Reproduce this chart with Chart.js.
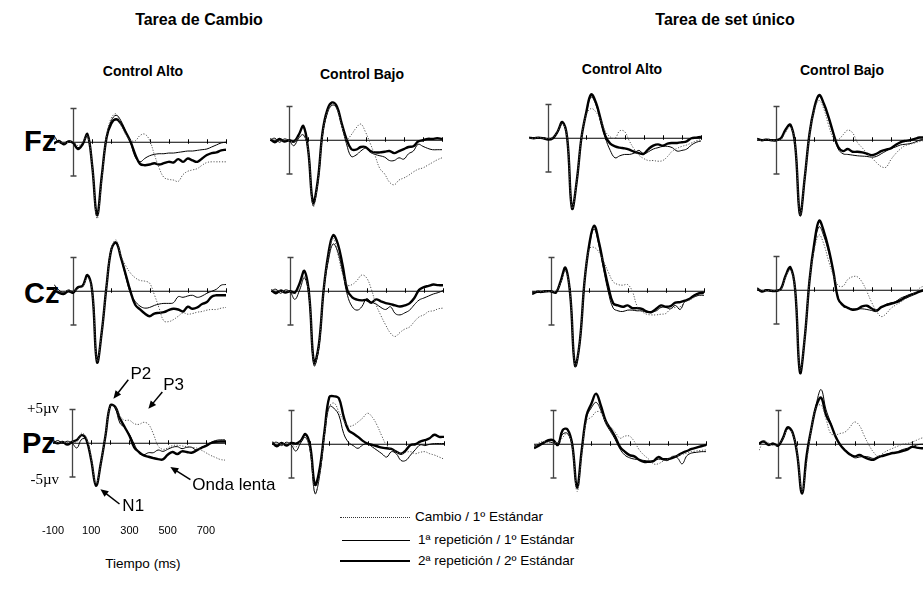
<!DOCTYPE html>
<html>
<head>
<meta charset="utf-8">
<script src="https://cdn.jsdelivr.net/npm/chart.js@4.4.1/dist/chart.umd.min.js"></script>
<style>
  body { margin: 0; width: 923px; height: 591px; overflow: hidden; background: #fff; position: relative;
         font-family: Arial, "Liberation Sans", Helvetica, sans-serif; color: #000; }
  canvas.erp { position: absolute; }
  .txt { position: absolute; white-space: nowrap; line-height: 1; transform: translate(-50%, -50%); }
  .left { transform: translate(0, -50%); }
  .title { font-weight: bold; font-size: 16px; }
  .col { font-weight: bold; font-size: 14px; }
  .row { font-weight: bold; font-size: 29px; }
  .leg { font-size: 13.5px; }
  .sample { position: absolute; width: 70px; height: 0; }
</style>
</head>
<body>

<div class="txt title" style="left:199px; top:20px">Tarea de Cambio</div>
<div class="txt title" style="left:725px; top:20px">Tarea de set único</div>
<div class="txt col" style="left:143px; top:71px">Control Alto</div>
<div class="txt col" style="left:362px; top:74px">Control Bajo</div>
<div class="txt col" style="left:622px; top:69px">Control Alto</div>
<div class="txt col" style="left:842px; top:70px">Control Bajo</div>
<div class="txt row left" style="left:24px; top:141px">Fz</div>
<div class="txt row left" style="left:24px; top:293px">Cz</div>
<div class="txt row left" style="left:22px; top:443px">Pz</div>
<div class="txt leg" style="left:143px; top:564px">Tiempo (ms)</div>

<div class="sample" style="left:340px; top:517px; border-top:1.2px dotted #333"></div>
<div class="sample" style="left:342px; top:540px; width:68px; border-top:1px solid #000"></div>
<div class="sample" style="left:340px; top:561px; border-top:2.4px solid #000; margin-top:-1px"></div>
<div class="txt leg left" style="left:415px; top:517px">Cambio / 1º Estándar</div>
<div class="txt leg left" style="left:418px; top:540px">1ª repetición / 1º Estándar</div>
<div class="txt leg left" style="left:418px; top:561px">2ª repetición / 2º Estándar</div>

<script>
// tiempos (ms) de cada muestra
const times = [-100, -75, -50, -25, 0, 25, 50, 75, 100, 125, 150, 175, 200, 225, 250, 275, 300,
  325, 350, 375, 400, 425, 450, 475, 500, 525, 550, 575, 600, 625, 650, 675, 700, 725, 750, 775, 800];
const calibTicks = [5, -5];
const xTickLabels = [-100, 100, 300, 500, 700];
const seriesNames = ["Cambio / 1º Estándar", "1ª repetición / 1º Estándar", "2ª repetición / 2º Estándar"];

// Tarea de Cambio - Control Alto
const tcAltoFz_cambio = [0.5, 0.1, -0.1, 0.0, 0.1, -0.5, 0.0, 1.0, -3.5, -11.3, -5.5, 1.0, 3.6, 4.2, 2.5, 1.2, 0.3, 0.2, 1.0, 1.2, 0.3, -1.8, -3.8, -5.2, -5.5, -5.6, -5.8, -4.8, -4.3, -4.1, -3.9, -3.4, -3.0, -2.9, -2.9, -2.9, -2.9];
const tcAltoFz_rep1   = [1.0, 0.0, -0.2, 0.2, 0.0, -0.8, -0.2, 1.2, -3.5, -10.9, -5.2, 0.8, 3.2, 4.0, 3.2, 1.6, 0.0, -2.2, -2.9, -2.4, -2.0, -1.8, -1.7, -1.7, -1.6, -1.6, -1.5, -1.4, -1.3, -1.3, -1.2, -1.1, -1.0, -0.7, -0.4, -0.1, 0.0];
const tcAltoFz_rep2   = [-0.2, 0.2, -0.3, 0.1, -0.1, -1.0, -0.3, 1.2, -3.5, -10.8, -5.0, 0.7, 2.8, 3.4, 2.8, 1.5, 0.1, -1.8, -3.2, -3.4, -3.3, -3.1, -3.3, -3.1, -2.9, -3.0, -2.5, -2.9, -2.4, -2.7, -2.9, -2.4, -1.9, -1.6, -1.5, -1.2, -1.1];
const tcAltoCz_cambio = [0.3, 0.0, -0.1, 0.1, 0.0, 0.4, 0.7, 2.0, 0.0, -10.3, -6.0, 0.8, 6.3, 7.6, 5.3, 3.8, 2.7, 2.0, 1.6, 1.5, 1.2, -0.5, -2.5, -4.4, -4.5, -4.2, -3.7, -3.2, -3.4, -3.3, -3.1, -3.0, -2.8, -2.7, -2.7, -2.5, -2.4];
const tcAltoCz_rep1   = [1.0, 0.2, -0.2, 0.2, 0.0, 0.5, 0.8, 2.2, 0.0, -10.3, -6.0, 0.8, 6.4, 7.3, 5.0, 2.2, -0.3, -1.5, -2.2, -2.5, -2.4, -2.1, -1.9, -1.8, -1.8, -1.7, -0.8, -0.9, -0.7, -0.6, -0.9, -0.7, -0.3, 0.0, 0.3, 0.9, 1.0];
const tcAltoCz_rep2   = [0.2, -0.2, -0.4, 0.0, -0.2, 0.6, 0.8, 2.4, 0.0, -10.5, -6.0, 0.8, 6.2, 7.2, 5.0, 2.5, 0.0, -2.0, -2.7, -3.3, -3.7, -3.3, -3.2, -3.1, -2.8, -2.6, -2.7, -3.0, -2.3, -2.6, -2.4, -1.9, -1.6, -0.8, -0.6, -0.6, -0.6];
const tcAltoPz_cambio = [0.3, 0.1, 0.2, 0.1, 0.3, 0.2, 1.5, 0.8, -2.2, -6.0, -3.0, 1.3, 5.5, 5.3, 4.0, 3.4, 3.4, 2.9, 2.8, 3.1, 2.8, 1.4, -0.4, -0.9, -0.7, -0.35, -0.3, -0.4, -0.5, -0.6, -0.7, -1.0, -1.4, -1.8, -2.1, -2.4, -2.5];
const tcAltoPz_rep1   = [0.0, 0.4, 0.0, 0.3, 0.0, -0.7, 0.6, 0.5, -2.5, -6.2, -3.0, 1.2, 5.6, 5.2, 3.0, 2.3, 1.3, -0.1, -1.5, -1.7, -1.4, -1.4, -1.0, -1.2, -0.9, -0.6, -0.5, -0.8, -0.6, -0.6, -1.0, -0.7, -0.3, 0.1, 0.4, 0.5, 0.5];
const tcAltoPz_rep2   = [0.3, 0.0, 0.2, -0.2, 0.2, 0.5, 1.2, 0.5, -2.5, -6.3, -3.0, 1.2, 5.6, 5.4, 3.7, 2.4, 1.1, -0.6, -1.3, -1.8, -2.0, -2.2, -2.35, -2.4, -1.7, -1.3, -1.6, -1.2, -1.3, -1.4, -1.1, -0.7, -0.4, 0.0, 0.2, 0.25, 0.25];

// Tarea de Cambio - Control Bajo
const tcBajoFz_cambio = [0.1, 0.2, -0.2, 0.1, 0.0, -0.3, 0.5, 0.8, -1.5, -9.8, -6.3, 0.8, 4.2, 5.3, 4.6, 2.2, 0.1, 0.8, 1.8, 2.4, 1.2, -0.5, -2.3, -4.2, -5.0, -6.2, -6.6, -5.9, -5.6, -5.2, -4.7, -4.3, -4.1, -3.7, -3.3, -2.9, -2.6];
const tcBajoFz_rep1   = [0.0, 0.3, -0.3, 0.2, -0.1, -0.8, 0.3, 0.8, -1.5, -9.6, -6.3, 0.8, 4.0, 5.2, 4.8, 2.2, -0.5, -2.4, -2.2, -1.6, -1.2, -1.8, -2.1, -2.3, -2.5, -3.0, -3.0, -2.6, -2.8, -2.0, -1.6, -0.6, -0.9, -1.2, -1.4, -1.4, -1.4];
const tcBajoFz_rep2   = [0.2, -0.3, 0.2, -0.2, 0.0, -0.2, 0.8, 2.1, -1.5, -9.2, -6.0, 1.2, 4.5, 5.6, 5.0, 2.5, 0.2, -1.3, -1.4, -1.0, -1.0, -1.6, -1.8, -1.8, -1.7, -1.6, -1.9, -1.6, -1.3, -1.0, -0.9, -0.2, 0.0, 0.2, 0.2, 0.3, 0.2];
const tcBajoCz_cambio = [0.1, 0.2, 0.0, 0.0, 0.0, -0.4, 0.5, 2.2, -0.8, -10.8, -8.2, 0.0, 5.0, 7.8, 5.5, 2.5, 0.9, 1.0, 1.6, 2.4, 2.0, 0.3, -2.0, -3.6, -5.0, -6.2, -6.7, -6.1, -5.6, -5.3, -4.5, -3.8, -3.5, -3.0, -2.9, -2.6, -2.5];
const tcBajoCz_rep1   = [0.0, 0.3, -0.3, 0.2, -0.1, -1.2, 0.2, 2.0, -1.0, -11.0, -8.5, 0.0, 4.5, 7.0, 5.8, 2.8, -0.6, -2.3, -2.8, -2.3, -1.1, -1.6, -1.9, -2.4, -2.7, -2.3, -3.3, -3.5, -3.2, -2.8, -2.0, -1.3, -1.0, -0.7, -0.4, -0.2, 0.1];
const tcBajoCz_rep2   = [0.2, -0.3, 0.1, -0.2, 0.0, -0.2, 1.2, 3.0, -0.6, -10.6, -8.0, 0.1, 5.5, 8.3, 7.0, 3.8, 0.1, -0.9, -1.25, -1.35, -1.3, -1.7, -1.2, -1.5, -1.75, -1.9, -2.1, -2.25, -2.1, -1.8, -1.0, 0.2, 0.6, 0.8, 1.0, 0.9, 0.9];
const tcBajoPz_cambio = [0.2, 0.3, 0.0, 0.1, 0.0, -0.4, 0.4, 1.0, -1.0, -7.3, -4.5, 1.5, 5.6, 6.1, 4.8, 3.5, 2.7, 2.8, 3.3, 3.9, 4.6, 4.0, 2.8, 1.2, -0.2, -0.8, -1.1, -1.4, -1.2, -1.1, -1.4, -1.2, -1.1, -1.4, -1.6, -1.9, -2.2];
const tcBajoPz_rep1   = [0.0, 0.3, -0.2, 0.3, -0.1, -1.0, 0.2, 1.0, -1.0, -7.3, -4.5, 1.5, 5.6, 5.3, 4.3, 1.6, 0.3, -0.2, -0.6, -0.1, 0.1, -0.4, -0.9, -1.4, -1.9, -1.1, -1.4, -2.4, -2.4, -1.6, -0.8, -0.1, -0.2, 0.0, 0.1, 0.1, 0.1];
const tcBajoPz_rep2   = [0.3, -0.3, 0.2, -0.2, 0.2, 0.1, 0.5, 1.5, -0.3, -6.0, -3.5, 2.0, 7.0, 7.1, 6.8, 4.1, 2.1, 1.6, 1.1, 0.5, 0.1, -0.1, -0.3, -0.5, -0.6, -0.7, -1.1, -1.4, -0.9, -0.1, 0.0, 0.4, 0.6, 0.9, 1.4, 1.1, 1.1];

// Tarea de set único - Control Alto
const suAltoFz_cambio = [0.0, 0.0, 0.1, 0.0, 0.0, 0.1, 1.0, 2.2, 0.0, -10.3, -6.3, 0.2, 3.5, 4.4, 3.9, 2.7, 1.0, 0.2, 0.0, 1.1, 1.0, -0.4, -1.6, -2.5, -3.0, -3.3, -3.3, -3.4, -3.3, -2.7, -1.9, -1.5, -1.2, -1.0, -0.7, -0.4, -0.2];
const suAltoFz_rep1   = [0.0, 0.1, 0.0, 0.1, -0.1, 0.1, 0.9, 2.2, 0.0, -10.3, -6.3, 0.2, 3.7, 6.1, 5.0, 2.4, 0.0, -1.8, -2.9, -2.6, -2.4, -2.4, -2.2, -1.8, -2.3, -2.0, -1.6, -1.4, -1.2, -1.2, -1.4, -1.9, -1.8, -1.6, -1.0, -0.6, -0.4];
const suAltoFz_rep2   = [0.1, 0.0, 0.1, 0.0, -0.2, 0.0, 1.0, 2.4, 0.0, -10.4, -6.3, 0.2, 3.9, 6.5, 5.3, 2.8, 0.3, -0.8, -1.2, -1.4, -1.5, -1.7, -2.0, -2.2, -2.3, -1.6, -1.1, -0.9, -1.1, -0.8, -0.7, -0.7, -0.6, -0.45, 0.0, 0.1, 0.2];
const suAltoCz_cambio = [-0.3, 0.0, 0.0, 0.0, 0.0, 0.0, 1.2, 3.0, -0.5, -11.0, -7.5, 1.5, 6.3, 6.5, 5.8, 4.4, 2.8, 1.4, 1.0, 0.9, 1.0, 0.0, -2.2, -3.0, -3.4, -3.5, -3.5, -3.4, -3.3, -2.6, -2.4, -2.3, -1.6, -1.3, -0.9, -0.6, -0.5];
const suAltoCz_rep1   = [-0.2, 0.0, 0.0, 0.1, -0.1, -0.1, 1.3, 3.3, -0.5, -11.0, -7.5, 1.5, 6.8, 9.2, 6.8, 3.2, -0.2, -2.5, -2.9, -3.0, -2.8, -2.8, -2.9, -2.9, -3.1, -3.0, -2.9, -2.4, -2.4, -2.6, -2.1, -2.7, -1.5, -1.1, -0.8, -0.6, -0.6];
const suAltoCz_rep2   = [-0.4, -0.1, -0.1, 0.0, 0.0, -0.2, 1.5, 3.5, -0.5, -11.0, -7.5, 1.5, 7.0, 9.7, 7.3, 3.8, 0.6, -1.8, -2.1, -2.3, -2.1, -2.5, -2.5, -2.6, -3.0, -3.1, -2.6, -2.1, -2.3, -2.2, -1.7, -1.6, -1.4, -1.1, -0.6, -0.3, -0.2];
const suAltoPz_cambio = [-0.3, 0.2, 0.4, 0.2, 0.3, 0.2, 1.0, 1.6, -0.3, -7.0, -1.5, 3.5, 4.0, 4.8, 4.7, 3.3, 2.6, 1.8, 0.9, 1.2, 1.2, 0.4, -0.8, -1.6, -2.2, -2.9, -2.9, -2.5, -2.2, -1.8, -1.7, -1.5, -1.3, -1.1, -1.0, -0.9, -0.85];
const suAltoPz_rep1   = [-0.3, 0.0, 0.3, 0.4, 0.2, 0.2, 1.5, 1.6, -0.3, -6.5, -1.0, 4.0, 5.4, 6.2, 5.0, 3.1, 1.9, 0.7, -0.7, -1.6, -2.0, -2.2, -2.3, -2.4, -2.5, -2.5, -2.2, -2.3, -2.4, -1.8, -2.0, -2.9, -1.7, -1.3, -1.2, -1.1, -1.1];
const suAltoPz_rep2   = [-0.6, -0.2, 0.2, 0.6, 0.6, -0.1, 2.1, 2.2, 0.0, -6.4, -0.8, 4.3, 6.0, 7.5, 5.7, 3.5, 2.3, 1.1, -0.4, -1.1, -1.6, -1.8, -2.3, -2.6, -2.6, -2.5, -1.9, -2.2, -2.2, -2.0, -1.7, -1.3, -1.0, -0.7, -0.5, -0.3, -0.1];

// Tarea de set único - Control Bajo
const suBajoFz_cambio = [0.1, 0.0, 0.2, 0.0, 0.0, 0.1, 1.2, 2.0, -0.8, -11.0, -5.5, 0.9, 4.5, 5.9, 4.6, 2.2, 0.3, 0.1, 0.8, 1.5, 1.1, -0.3, -1.1, -1.9, -2.6, -3.3, -3.9, -4.0, -2.9, -2.0, -1.3, -0.8, -0.6, -0.4, -0.2, 0.0, 0.2];
const suBajoFz_rep1   = [0.1, 0.1, 0.0, 0.1, 0.0, 0.2, 1.5, 2.2, -0.8, -11.2, -5.6, 1.0, 4.7, 6.5, 5.3, 3.2, 0.8, -1.3, -2.0, -2.1, -2.2, -2.3, -2.35, -2.4, -2.5, -2.4, -2.0, -1.6, -1.2, -1.0, -0.7, -0.6, -0.5, -0.3, 0.0, 0.2, 0.3];
const suBajoFz_rep2   = [0.2, 0.0, 0.1, 0.0, 0.0, 0.3, 1.6, 2.3, -0.8, -11.0, -5.5, 1.0, 4.8, 6.7, 5.4, 3.4, 1.0, -1.0, -1.6, -1.3, -1.7, -1.7, -1.8, -2.0, -2.2, -2.0, -1.6, -1.4, -1.2, -0.7, -0.3, -0.1, 0.0, 0.2, 0.4, 0.4, 0.4];
const suBajoCz_cambio = [0.2, 0.0, -0.1, 0.0, 0.0, 0.1, 2.0, 3.0, 0.0, -11.8, -7.0, 1.5, 6.0, 8.2, 6.8, 4.3, 2.2, 0.7, 0.6, 1.6, 2.0, 2.0, 1.2, -0.2, -1.8, -3.1, -3.9, -3.5, -2.7, -2.2, -1.8, -1.3, -0.9, -0.4, 0.3, 0.6, 0.6];
const suBajoCz_rep1   = [0.1, -0.1, 0.1, 0.0, -0.1, 0.2, 2.1, 3.2, 0.0, -12.0, -7.0, 1.5, 6.5, 9.4, 8.0, 5.6, 2.5, -1.2, -2.4, -2.6, -2.75, -2.75, -2.75, -2.85, -3.0, -3.15, -2.6, -2.1, -1.9, -1.7, -1.2, -0.9, -0.6, -0.4, -0.2, 0.1, 0.2];
const suBajoCz_rep2   = [0.3, -0.2, 0.0, -0.1, -0.1, 0.2, 2.2, 3.4, 0.0, -12.2, -7.0, 1.5, 7.0, 10.3, 8.7, 6.1, 2.7, -1.3, -2.2, -2.6, -2.9, -2.8, -2.4, -2.3, -2.7, -3.0, -2.5, -2.2, -2.0, -1.8, -1.5, -1.1, -0.8, -0.5, -0.2, 0.0, 0.1];
const suBajoPz_cambio = [-0.9, 0.4, 0.2, -0.2, 0.0, 0.8, 2.2, 1.6, -1.3, -7.0, -2.5, 2.5, 5.5, 5.8, 3.8, 1.6, 1.4, 1.6, 1.8, 2.5, 3.3, 2.8, 1.3, -0.1, -1.2, -1.8, -1.3, -0.9, -0.6, -0.3, 0.0, 0.1, 0.3, 0.6, 0.9, 1.0, 1.0];
const suBajoPz_rep1   = [0.1, 0.3, 0.0, 0.1, -0.1, 0.8, 2.3, 1.6, -1.5, -7.3, -1.8, 2.5, 6.0, 8.1, 5.2, 3.2, 1.2, -0.1, -0.8, -1.5, -2.0, -1.9, -1.8, -1.9, -2.1, -1.8, -1.6, -1.4, -1.3, -1.1, -0.8, -0.6, -0.4, -0.1, 0.0, 0.0, 0.0];
const suBajoPz_rep2   = [0.1, 0.4, -0.1, 0.1, -0.2, 0.9, 2.5, 1.8, -1.5, -7.3, -1.5, 2.5, 5.7, 6.9, 4.4, 3.0, 1.2, -0.1, -0.9, -1.5, -1.8, -1.6, -1.9, -2.2, -2.3, -1.9, -1.7, -1.5, -1.3, -1.2, -1.0, -0.8, -0.4, -0.5, -0.6, -0.5, -0.5];

// posicion de cada panel: pixel del 0 ms y del 0 µV
const panels = [
  { x0: 72.7,  y0: 142.2, data: [tcAltoFz_cambio, tcAltoFz_rep1, tcAltoFz_rep2] },
  { x0: 289.3, y0: 140.5, data: [tcBajoFz_cambio, tcBajoFz_rep1, tcBajoFz_rep2] },
  { x0: 547.7, y0: 138.7, data: [suAltoFz_cambio, suAltoFz_rep1, suAltoFz_rep2] },
  { x0: 775.7, y0: 140.0, data: [suBajoFz_cambio, suBajoFz_rep1, suBajoFz_rep2] },
  { x0: 72.7,  y0: 291.7, data: [tcAltoCz_cambio, tcAltoCz_rep1, tcAltoCz_rep2] },
  { x0: 290.0, y0: 291.7, data: [tcBajoCz_cambio, tcBajoCz_rep1, tcBajoCz_rep2] },
  { x0: 550.7, y0: 290.8, data: [suAltoCz_cambio, suAltoCz_rep1, suAltoCz_rep2] },
  { x0: 776.0, y0: 290.0, data: [suBajoCz_cambio, suBajoCz_rep1, suBajoCz_rep2] },
  { x0: 71.7,  y0: 443.3, data: [tcAltoPz_cambio, tcAltoPz_rep1, tcAltoPz_rep2], labels: true },
  { x0: 290.7, y0: 444.2, data: [tcBajoPz_cambio, tcBajoPz_rep1, tcBajoPz_rep2] },
  { x0: 553.3, y0: 444.2, data: [suAltoPz_cambio, suAltoPz_rep1, suAltoPz_rep2] },
  { x0: 778.3, y0: 444.2, data: [suBajoPz_cambio, suBajoPz_rep1, suBajoPz_rep2] }
];

const pxPerMs = 0.1913;
const pxPerUv = 6.75;
const yMin = -13, yMax = 11;

const styles = [
  { borderColor: '#555', borderWidth: 1, borderDash: [1.2, 1.6] },
  { borderColor: '#000', borderWidth: 1 },
  { borderColor: '#000', borderWidth: 2.4 }
];

// eje horizontal en 0 µV y barra de calibracion de ±5 µV
const erpAxes = {
  id: 'erpAxes',
  beforeDatasetsDraw(chart) {
    const { ctx, scales: { x, y } } = chart;
    const yz = y.getPixelForValue(0);
    ctx.save();
    ctx.strokeStyle = '#000';
    ctx.lineWidth = 1;
    ctx.beginPath();
    ctx.moveTo(x.getPixelForValue(-100), yz);
    ctx.lineTo(x.getPixelForValue(800), yz);
    for (let t = 100; t <= 800; t += 100) {
      const px = Math.round(x.getPixelForValue(t)) + 0.5;
      ctx.moveTo(px, yz - 3);
      ctx.lineTo(px, yz + 1.5);
    }
    ctx.stroke();
    const xc = Math.round(x.getPixelForValue(0)) + 0.5;
    const yt = y.getPixelForValue(calibTicks[0]);
    const yb = y.getPixelForValue(calibTicks[1]);
    ctx.strokeStyle = '#444';
    ctx.lineWidth = 1.3;
    ctx.beginPath();
    ctx.moveTo(xc, yt); ctx.lineTo(xc, yb);
    ctx.moveTo(xc - 3, yt); ctx.lineTo(xc + 3, yt);
    ctx.moveTo(xc - 3, yb); ctx.lineTo(xc + 3, yb);
    ctx.stroke();
    ctx.restore();
  }
};

function arrow(ctx, x1, y1, x2, y2) {
  const a = Math.atan2(y2 - y1, x2 - x1);
  const h = 8;
  ctx.beginPath();
  ctx.moveTo(x1, y1);
  ctx.lineTo(x2 - Math.cos(a) * h * 0.8, y2 - Math.sin(a) * h * 0.8);
  ctx.stroke();
  ctx.beginPath();
  ctx.moveTo(x2, y2);
  ctx.lineTo(x2 - h * Math.cos(a) + 3.5 * Math.sin(a), y2 - h * Math.sin(a) - 3.5 * Math.cos(a));
  ctx.lineTo(x2 - h * Math.cos(a) - 3.5 * Math.sin(a), y2 - h * Math.sin(a) + 3.5 * Math.cos(a));
  ctx.closePath();
  ctx.fill();
}

// rotulos del panel Pz de la tarea de cambio (componentes y escala)
const components = [
  { text: 'P2', from: [294, 9.4], to: [216, 6.6], at: [305, 10.2] },
  { text: 'P3', from: [472, 7.6], to: [399, 5.1], at: [477, 8.6] },
  { text: 'N1', from: [248, -9.0], to: [148, -6.8], at: [263, -9.3] },
  { text: 'Onda lenta', from: [619, -5.4], to: [514, -3.5], at: [629, -6.3] }
];

const pzLabels = {
  id: 'pzLabels',
  afterDraw(chart) {
    const { ctx, scales: { x, y } } = chart;
    ctx.save();
    ctx.fillStyle = '#000';
    ctx.strokeStyle = '#000';
    ctx.lineWidth = 1.5;
    ctx.textBaseline = 'middle';
    ctx.font = '17px Arial, "Liberation Sans", sans-serif';
    components.forEach(c => {
      arrow(ctx, x.getPixelForValue(c.from[0]), y.getPixelForValue(c.from[1]),
                 x.getPixelForValue(c.to[0]), y.getPixelForValue(c.to[1]));
      ctx.textAlign = 'left';
      ctx.fillText(c.text, x.getPixelForValue(c.at[0]), y.getPixelForValue(c.at[1]));
    });
    ctx.font = '15px "Liberation Serif", "Times New Roman", serif';
    ctx.textAlign = 'right';
    const xl = x.getPixelForValue(0) - 13;
    ctx.fillText('+5µv', xl, y.getPixelForValue(calibTicks[0]));
    ctx.fillText('-5µv', xl, y.getPixelForValue(calibTicks[1]) + 3);
    ctx.font = '11px Arial, "Liberation Sans", sans-serif';
    ctx.textAlign = 'center';
    const yl = y.getPixelForValue(0) + 88;
    xTickLabels.forEach(t => ctx.fillText(String(t), x.getPixelForValue(t), yl));
    ctx.restore();
  }
};

panels.forEach(p => {
  const pad = p.labels ? { left: 55, right: 65, top: 85, bottom: 100 } : { left: 6, right: 6, top: 6, bottom: 6 };
  const plotW = 900 * pxPerMs;
  const plotH = (yMax - yMin) * pxPerUv;
  const canvas = document.createElement('canvas');
  canvas.className = 'erp';
  canvas.width = Math.round(plotW + pad.left + pad.right);
  canvas.height = Math.round(plotH + pad.top + pad.bottom);
  canvas.style.left = (p.x0 - 100 * pxPerMs - pad.left) + 'px';
  canvas.style.top = (p.y0 - yMax * pxPerUv - pad.top) + 'px';
  document.body.appendChild(canvas);

  new Chart(canvas.getContext('2d'), {
    type: 'line',
    data: {
      datasets: p.data.map((vals, i) => ({
        label: seriesNames[i],
        data: times.map((t, k) => ({ x: t, y: vals[k] })),
        pointRadius: 0,
        tension: 0.4,
        fill: false,
        ...styles[i]
      }))
    },
    options: {
      responsive: false,
      animation: false,
      layout: { padding: pad },
      plugins: { legend: { display: false }, tooltip: { enabled: false } },
      scales: {
        x: { type: 'linear', min: -100, max: 800, display: false },
        y: { min: yMin, max: yMax, display: false }
      }
    },
    plugins: p.labels ? [erpAxes, pzLabels] : [erpAxes]
  });
});
</script>
</body>
</html>
